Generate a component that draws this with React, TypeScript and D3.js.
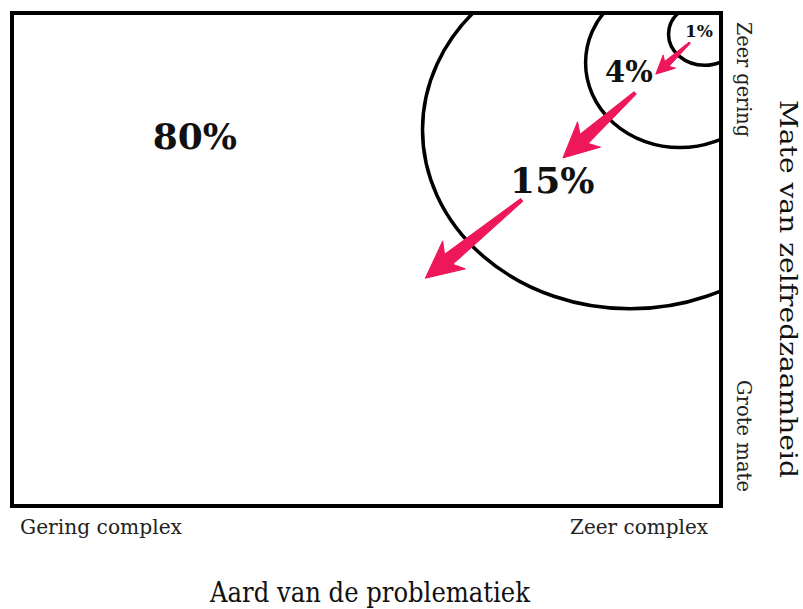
import { useEffect, useRef } from "react";
import * as d3 from "d3";

// shares of the population per level (outer to inner)
const levelLabels = ["80%", "15%", "4%", "1%"];
// label positions in the 0-100 problem space (x: complexity, y: self-reliance)
const labelX = [25.8, 76.2, 87.0, 96.9];
const labelY = [27.5, 36.5, 14.0, 4.9];
const labelSize = [36, 36, 29, 17];

// ellipses of the inner levels (15%, 4%, 1%)
const ringCx = [87.2, 94.2, 97.7];
const ringCy = [23.7, 10.1, 4.3];
const ringRx = [29.3, 13.3, 5.1];
const ringRy = [36.3, 17.2, 6.3];

// arrows from the inner level outward
const arrowFrom: [number, number][] = [
  [95.6, 6.0],
  [87.9, 16.2],
  [71.9, 37.9],
];
const arrowTo: [number, number][] = [
  [90.8, 12.4],
  [77.7, 29.4],
  [58.3, 53.8],
];
const arrowScale = [0.5, 0.95, 1.0];

const xLabels = ["Gering complex", "Zeer complex"];
const yLabels = ["Zeer gering", "Grote mate"];
const xTitle = "Aard van de problematiek";
const yTitle = "Mate van zelfredzaamheid";

export default function App() {
  const svgRef = useRef<SVGSVGElement>(null);

  useEffect(() => {
    if (!svgRef.current) return;
    const width = 803;
    const height = 609;
    const frame = { left: 12, top: 13, right: 721, bottom: 506 };

    d3.select(svgRef.current).selectAll("*").remove();
    const svg = d3
      .select(svgRef.current)
      .attr("width", width)
      .attr("height", height);

    const x = d3.scaleLinear().domain([0, 100]).range([frame.left, frame.right]);
    const y = d3.scaleLinear().domain([0, 100]).range([frame.top, frame.bottom]);

    svg
      .append("defs")
      .append("clipPath")
      .attr("id", "frame-clip")
      .append("rect")
      .attr("x", frame.left)
      .attr("y", frame.top)
      .attr("width", frame.right - frame.left)
      .attr("height", frame.bottom - frame.top);

    const rings = svg.append("g").attr("clip-path", "url(#frame-clip)");
    rings
      .selectAll("ellipse")
      .data(ringCx)
      .join("ellipse")
      .attr("cx", (d) => x(d))
      .attr("cy", (_, i) => y(ringCy[i]))
      .attr("rx", (_, i) => x(ringRx[i]) - x(0))
      .attr("ry", (_, i) => y(ringRy[i]) - y(0))
      .attr("fill", "none")
      .attr("stroke", "#000")
      .attr("stroke-width", 3.5);

    // frame
    svg
      .append("rect")
      .attr("x", frame.left)
      .attr("y", frame.top)
      .attr("width", frame.right - frame.left)
      .attr("height", frame.bottom - frame.top)
      .attr("fill", "none")
      .attr("stroke", "#000")
      .attr("stroke-width", 4);

    // tapered arrows
    const arrowPath = (i: number) => {
      const s = arrowScale[i];
      const tx = x(arrowFrom[i][0]);
      const ty = y(arrowFrom[i][1]);
      const px = x(arrowTo[i][0]);
      const py = y(arrowTo[i][1]);
      const len = Math.hypot(px - tx, py - ty);
      const ux = (px - tx) / len;
      const uy = (py - ty) / len;
      const nx = -uy;
      const ny = ux;
      const headLen = 30 * s;
      const headW = 36 * s;
      const neckW = 13 * s;
      const tailW = 3.5 * s;
      const sweep = 7 * s;
      const bx = px - ux * headLen;
      const by = py - uy * headLen;
      const pts: [number, number][] = [
        [tx + (nx * tailW) / 2, ty + (ny * tailW) / 2],
        [bx + (nx * neckW) / 2, by + (ny * neckW) / 2],
        [bx + (nx * headW) / 2 - ux * sweep, by + (ny * headW) / 2 - uy * sweep],
        [px, py],
        [bx - (nx * headW) / 2 - ux * sweep, by - (ny * headW) / 2 - uy * sweep],
        [bx - (nx * neckW) / 2, by - (ny * neckW) / 2],
        [tx - (nx * tailW) / 2, ty - (ny * tailW) / 2],
      ];
      return d3.line()(pts) + "Z";
    };

    svg
      .append("g")
      .selectAll("path")
      .data(arrowFrom)
      .join("path")
      .attr("d", (_, i) => arrowPath(i))
      .attr("fill", "#ee1759")
      .attr("stroke", "#ee1759")
      .attr("stroke-width", 1)
      .attr("stroke-linejoin", "round");

    // percentage labels
    svg
      .append("g")
      .selectAll("text")
      .data(levelLabels)
      .join("text")
      .attr("x", (_, i) => x(labelX[i]))
      .attr("y", (_, i) => y(labelY[i]))
      .attr("text-anchor", "middle")
      .attr("font-family", "DejaVu Serif")
      .attr("font-weight", "bold")
      .attr("font-size", (_, i) => labelSize[i])
      .attr("fill", "#111")
      .text((d) => d);

    const serif = "DejaVu Serif";

    // bottom labels
    svg
      .append("text")
      .attr("x", 20)
      .attr("y", 534)
      .attr("font-family", serif)
      .attr("font-size", 21)
      .attr("textLength", 162)
      .attr("lengthAdjust", "spacingAndGlyphs")
      .attr("fill", "#222")
      .text(xLabels[0]);
    svg
      .append("text")
      .attr("x", 570)
      .attr("y", 534)
      .attr("font-family", serif)
      .attr("font-size", 21)
      .attr("textLength", 138)
      .attr("lengthAdjust", "spacingAndGlyphs")
      .attr("fill", "#222")
      .text(xLabels[1]);
    svg
      .append("text")
      .attr("x", 210)
      .attr("y", 602)
      .attr("font-family", serif)
      .attr("font-size", 28)
      .attr("textLength", 320)
      .attr("lengthAdjust", "spacingAndGlyphs")
      .attr("fill", "#111")
      .text(xTitle);

    // right labels, rotated
    const rot = (tx: number, ty: number, txt: string, size: number, len: number, fill: string) =>
      svg
        .append("text")
        .attr("transform", `translate(${tx},${ty}) rotate(90)`)
        .attr("font-family", serif)
        .attr("font-size", size)
        .attr("textLength", len)
        .attr("lengthAdjust", "spacingAndGlyphs")
        .attr("fill", fill)
        .text(txt);

    rot(737, 22, yLabels[0], 20, 115, "#222");
    rot(737, 380, yLabels[1], 20, 112, "#222");
    rot(780, 100, yTitle, 25, 378, "#111");
  }, []);

  return (
    <svg
      ref={svgRef}
      style={{ position: "absolute", left: 0, top: 0, background: "#fff" }}
    />
  );
}
